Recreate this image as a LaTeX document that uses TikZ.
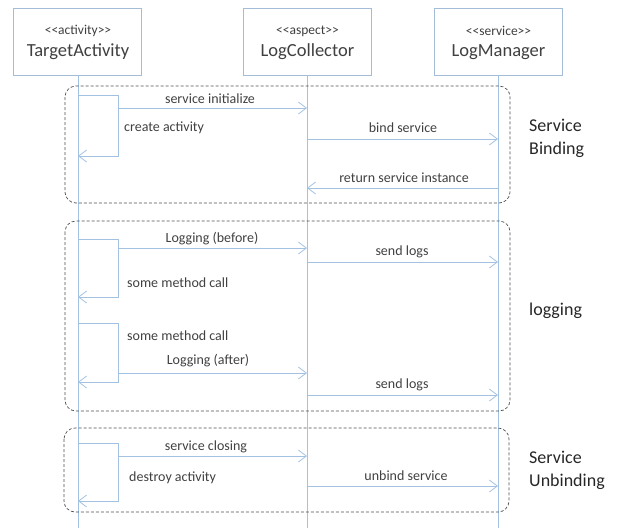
\documentclass[tikz,border=0pt]{standalone}
\usepackage{fontspec}
\setmainfont{Carlito}[Ligatures=TeXOff]
\usetikzlibrary{arrows.meta}
\definecolor{lineblue}{HTML}{A3C2E2}
\definecolor{boxblue}{HTML}{A3BDD8}
\definecolor{txt}{HTML}{404040}
\definecolor{dashc}{HTML}{505050}
\tikzset{
  x=1pt,y=-1pt,
  objbox/.style={draw=boxblue,line width=0.8pt,fill=white,minimum width=128pt,minimum height=67pt,inner sep=0pt},
  stereo/.style={font=\fontsize{13.5}{15}\selectfont,text=txt,inner sep=0pt},
  objname/.style={font=\fontsize{18.5}{20}\selectfont,text=txt,inner sep=0pt},
  lifeline/.style={draw=lineblue,line width=0.8pt},
  msg/.style={draw=lineblue,line width=0.8pt,-{Straight Barb[length=8pt,width=12pt,line width=0.8pt]}},
  selfcall/.style={draw=lineblue,line width=0.8pt,-{Straight Barb[length=8pt,width=12pt,line width=0.8pt]}},
  lbl/.style={font=\fontsize{14}{16}\selectfont,text=txt,inner sep=0pt},
  group/.style={draw=dashc,line width=0.7pt,dash pattern=on 3pt off 2pt,rounded corners=11pt},
  seclbl/.style={font=\fontsize{18}{23}\selectfont,text=black!85,inner sep=0pt,align=left,anchor=west}
}
\begin{document}
\begin{tikzpicture}
\useasboundingbox (0,0) rectangle (626,528);
% objects
\node[objbox] (ta) at (77,41.5) {};
\node[objbox] (lc) at (307.5,41.5) {};
\node[objbox] (lm) at (498.5,41.5) {};
\node[stereo] (ta-s) at (78,31) {<<activity>>};
\node[objname] (ta-n) at (78,52) {TargetActivity};
\node[stereo] (lc-s) at (307.5,31) {<<aspect>>};
\node[objname] (lc-n) at (307.5,52) {LogCollector};
\node[stereo] (lm-s) at (498.5,31) {<<service>>};
\node[objname] (lm-n) at (498.5,52) {LogManager};
% lifelines
\coordinate (ta-end) at (78,528);
\coordinate (lc-end) at (307,528);
\coordinate (lm-end) at (498,528);
\draw[lifeline] (78,75) -- (ta-end);
\draw[lifeline] (307,75) -- (lc-end);
\draw[lifeline] (498,75) -- (lm-end);
% groups
\draw[group] (65,86) rectangle (510,203);
\draw[group] (65,221) rectangle (510,411);
\draw[group] (64,428) rectangle (509,512);
\node[seclbl] (g1) at (529,138.5) {Service\\Binding};
\node[seclbl] (g2) at (529,311) {logging};
\node[seclbl] (g3) at (529,470) {Service\\Unbinding};
% --- Service Binding
\coordinate (s1a) at (78,95); \coordinate (s1b) at (118,95);
\coordinate (s1c) at (118,156); \coordinate (s1d) at (78,156);
\draw[selfcall] (s1a) -- (s1b) -- (s1c) -- (s1d);
\node[lbl,anchor=west] (l1) at (124,128) {create activity};
\coordinate (m1a) at (118,108); \coordinate (m1b) at (307,108);
\draw[msg] (m1a) -- (m1b);
\node[lbl] (l2) at (210,99) {service initialize};
\coordinate (m2a) at (307,139); \coordinate (m2b) at (498,139);
\draw[msg] (m2a) -- (m2b);
\node[lbl] (l3) at (403,128) {bind service};
\coordinate (m3a) at (498,188); \coordinate (m3b) at (307,188);
\draw[msg] (m3a) -- (m3b);
\node[lbl] (l4) at (404,178) {return service instance};
% --- logging
\coordinate (s2a) at (78,239); \coordinate (s2b) at (118,239);
\coordinate (s2c) at (118,297); \coordinate (s2d) at (78,297);
\draw[selfcall] (s2a) -- (s2b) -- (s2c) -- (s2d);
\node[lbl,anchor=west] (l5) at (127,283) {some method call};
\coordinate (m4a) at (118,248); \coordinate (m4b) at (307,248);
\draw[msg] (m4a) -- (m4b);
\node[lbl] (l6) at (212,239) {Logging (before)};
\coordinate (m5a) at (307,262); \coordinate (m5b) at (498,262);
\draw[msg] (m5a) -- (m5b);
\node[lbl] (l7) at (402,252) {send logs};
\coordinate (s3a) at (78,323); \coordinate (s3b) at (118,323);
\coordinate (s3c) at (118,382); \coordinate (s3d) at (78,382);
\draw[selfcall] (s3a) -- (s3b) -- (s3c) -- (s3d);
\node[lbl,anchor=west] (l8) at (127,336) {some method call};
\coordinate (m6a) at (118,373); \coordinate (m6b) at (307,373);
\draw[msg] (m6a) -- (m6b);
\node[lbl] (l9) at (208,361) {Logging (after)};
\coordinate (m7a) at (307,395); \coordinate (m7b) at (498,395);
\draw[msg] (m7a) -- (m7b);
\node[lbl] (l10) at (402,385) {send logs};
% --- Service Unbinding
\coordinate (s4a) at (78,443); \coordinate (s4b) at (118,443);
\coordinate (s4c) at (118,501); \coordinate (s4d) at (78,501);
\draw[selfcall] (s4a) -- (s4b) -- (s4c) -- (s4d);
\node[lbl,anchor=west] (l11) at (129,478) {destroy activity};
\coordinate (m8a) at (118,456); \coordinate (m8b) at (307,456);
\draw[msg] (m8a) -- (m8b);
\node[lbl] (l12) at (206,447) {service closing};
\coordinate (m9a) at (307,486); \coordinate (m9b) at (498,486);
\draw[msg] (m9a) -- (m9b);
\node[lbl] (l13) at (406,476) {unbind service};
\end{tikzpicture}
\end{document}
